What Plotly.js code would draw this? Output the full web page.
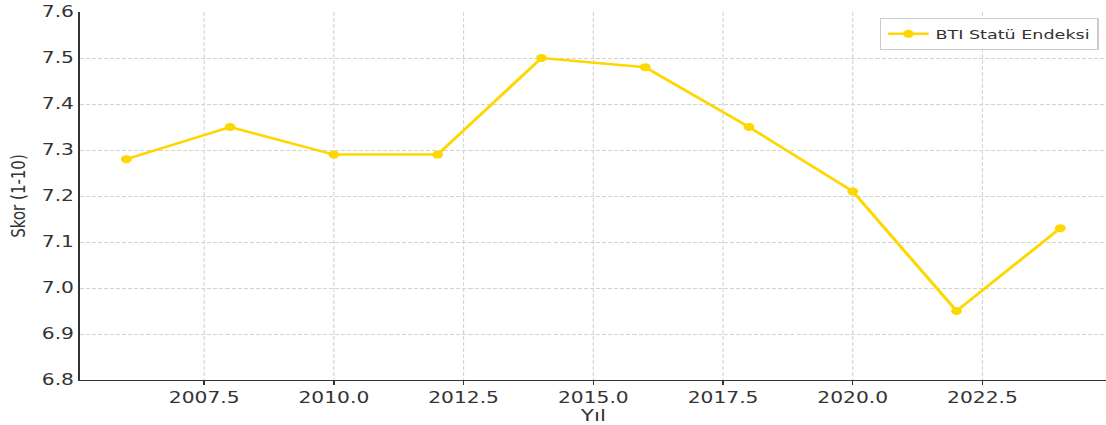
<!DOCTYPE html>
<html>
<head>
<meta charset="utf-8">
<script src="https://cdn.plot.ly/plotly-3.0.1.min.js"></script>
<style>
html,body{margin:0;padding:0;background:#fff;overflow:hidden;}
#wrap{width:1106px;height:425px;overflow:hidden;}
#chart{width:820px;height:425px;transform:scaleX(1.35);transform-origin:0 0;}
</style>
</head>
<body>
<div id="wrap"><div id="chart"></div></div>
<script>
const years = [2006, 2008, 2010, 2012, 2014, 2016, 2018, 2020, 2022, 2024];
const scores = [7.28, 7.35, 7.29, 7.29, 7.50, 7.48, 7.35, 7.21, 6.95, 7.13];
const seriesName = "BTI Statü Endeksi";
const xTitle = "Yıl";
const yTitle = "Skor (1-10)";

const trace = {
  x: years, y: scores, name: seriesName,
  type: "scatter", mode: "lines+markers",
  line: {color: "#FFD700", width: 2.5},
  marker: {color: "#FFD700", size: 8},
  showlegend: true
};

const FONT = "DejaVu Sans, sans-serif";
const TXT = "#333333";

const layout = {
  width: 820, height: 425,
  margin: {l: 58.5, r: 0, t: 12, b: 45},
  paper_bgcolor: "#ffffff", plot_bgcolor: "#ffffff",
  font: {family: FONT, size: 14, color: TXT},
  xaxis: {
    range: [2005.1, 2024.9], tick0: 2007.5, dtick: 2.5, tickformat: ".1f",
    showgrid: true, gridcolor: "#d3d3d3", griddash: "4px,2px", gridwidth: 0.8,
    showline: true, linecolor: "#333333", linewidth: 1.2,
    ticks: "outside", ticklen: 4, tickcolor: "#333333", tickwidth: 1,
    zeroline: false,
    tickfont: {family: FONT, size: 15, color: TXT},
    title: {text: xTitle, standoff: 1, font: {family: FONT, size: 16, color: TXT}}
  },
  yaxis: {
    range: [6.8, 7.6], dtick: 0.1, tickformat: ".1f",
    showgrid: true, gridcolor: "#d3d3d3", griddash: "3px,1.5px", gridwidth: 1,
    showline: true, linecolor: "#333333", linewidth: 1.2,
    ticks: "",
    zeroline: false,
    tickfont: {family: FONT, size: 15, color: TXT},
    title: {text: yTitle, standoff: 8, font: {family: FONT, size: 15, color: TXT}}
  },
  legend: {
    x: 0.992, y: 0.984, xanchor: "right", yanchor: "top",
    bgcolor: "rgba(255,255,255,0.9)", bordercolor: "#cccccc", borderwidth: 1,
    font: {family: FONT, size: 13, color: TXT},
    itemwidth: 30
  }
};

Plotly.newPlot("chart", [trace], layout, {displayModeBar: false, staticPlot: true});
</script>
</body>
</html>
